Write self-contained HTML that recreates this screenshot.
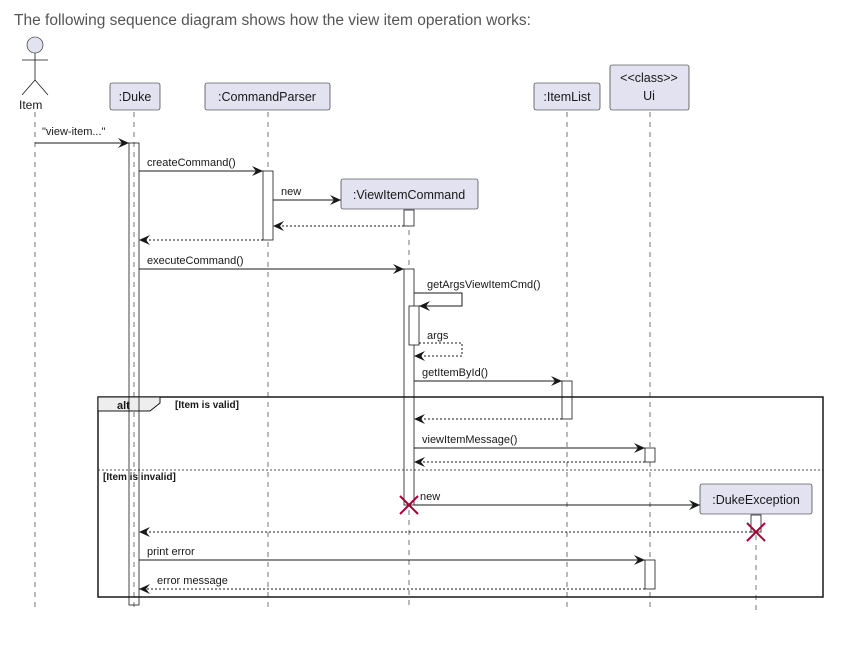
<!DOCTYPE html>
<html><head><meta charset="utf-8"><style>
html,body{margin:0;padding:0;background:#fff;width:844px;height:653px;overflow:hidden}
svg{display:block}
</style></head><body>
<svg width="844" height="653" xmlns="http://www.w3.org/2000/svg" font-family="Liberation Sans, sans-serif">
<defs>
<marker id="a" markerWidth="12" markerHeight="10" refX="11" refY="5" orient="auto" markerUnits="userSpaceOnUse">
<path d="M0,0 L11,5 L0,10 L4,5 Z" fill="#181818"/></marker>
</defs>
<text x="14" y="25" font-size="15.5" fill="#555">The following sequence diagram shows how the view item operation works:</text>
<g stroke="#181818" stroke-width="0.6" stroke-dasharray="5,5" fill="none">
<line x1="35" y1="112" x2="35" y2="610"/>
<line x1="134" y1="112" x2="134" y2="610"/>
<line x1="268" y1="112" x2="268" y2="610"/>
<line x1="409" y1="210" x2="409" y2="610"/>
<line x1="567" y1="112" x2="567" y2="610"/>
<line x1="650" y1="112" x2="650" y2="610"/>
<line x1="756" y1="515" x2="756" y2="610"/>
</g>
<g fill="#E2E2F0" stroke="#181818" stroke-width="0.6">
<circle cx="35" cy="45" r="8"/>
</g>
<g stroke="#181818" stroke-width="0.8">
<line x1="35" y1="53" x2="35" y2="80"/>
<line x1="22" y1="60" x2="48" y2="60"/>
<line x1="35" y1="80" x2="22" y2="95"/>
<line x1="35" y1="80" x2="48" y2="95"/>
</g>
<text x="19" y="109" font-size="12" fill="#181818">Item</text>
<g fill="#E2E2F0" stroke="#181818" stroke-width="0.6">
<rect x="110" y="83" width="50" height="27" rx="2"/>
<rect x="205" y="83" width="125" height="27" rx="2"/>
<rect x="534" y="83" width="66" height="27" rx="2"/>
<rect x="610" y="65" width="79" height="45" rx="2"/>
<rect x="341" y="179" width="137" height="30" rx="2"/>
<rect x="700" y="484" width="112" height="30" rx="2"/>
</g>
<g font-size="12.5" fill="#181818" text-anchor="middle">
<text x="135" y="101">:Duke</text>
<text x="267" y="101">:CommandParser</text>
<text x="567" y="101">:ItemList</text>
<text x="649" y="82">&lt;&lt;class&gt;&gt;</text>
<text x="649" y="100">Ui</text>
<text x="409" y="199">:ViewItemCommand</text>
<text x="756" y="504">:DukeException</text>
</g>
<!-- activations -->
<g fill="#fff" stroke="#181818" stroke-width="0.8">
<rect x="129" y="143" width="10" height="462" fill="none"/>
<rect x="263" y="171" width="10" height="69"/>
<rect x="404" y="210" width="10" height="16"/>
<rect x="404" y="269" width="10" height="236"/>
<rect x="409" y="306" width="10" height="39"/>
<rect x="562" y="381" width="10" height="38"/>
<rect x="645" y="448" width="10" height="14"/>
<rect x="751" y="515" width="10" height="17"/>
<rect x="645" y="560" width="10" height="29"/>
</g>
<!-- alt frame -->
<rect x="98" y="397" width="725" height="200" fill="none" stroke="#181818" stroke-width="1.5"/>
<path d="M98,397 H160 V403 L150,411 H98 Z" fill="#EEE" stroke="#181818" stroke-width="1"/>
<line x1="129" y1="397" x2="129" y2="411" stroke="#181818" stroke-width="0.8"/>
<line x1="139" y1="397" x2="139" y2="411" stroke="#181818" stroke-width="0.8"/>
<text x="117" y="409" font-size="11" font-weight="bold" fill="#181818">alt</text>
<text x="175" y="408" font-size="10" font-weight="bold" fill="#181818">[Item is valid]</text>
<line x1="98" y1="470" x2="823" y2="470" stroke="#181818" stroke-width="0.8" stroke-dasharray="2,2"/>
<text x="103" y="480" font-size="10" font-weight="bold" fill="#181818">[Item is invalid]</text>
<g stroke="#181818" stroke-width="1" fill="none" marker-end="url(#a)">
<line x1="35" y1="143" x2="129" y2="143"/>
<line x1="139" y1="171" x2="263" y2="171"/>
<line x1="273" y1="200" x2="341" y2="200"/>
<line x1="139" y1="269" x2="404" y2="269"/>
<polyline points="414,293 462,293 462,306 419,306"/>
<line x1="414" y1="381" x2="562" y2="381"/>
<line x1="414" y1="448" x2="645" y2="448"/>
<line x1="414" y1="505" x2="700" y2="505"/>
<line x1="139" y1="560" x2="645" y2="560"/>
</g>
<g stroke="#181818" stroke-width="1" fill="none" stroke-dasharray="2,2" marker-end="url(#a)">
<line x1="404" y1="226" x2="273" y2="226"/>
<line x1="263" y1="240" x2="139" y2="240"/>
<polyline points="419,343 462,343 462,356 414,356"/>
<line x1="562" y1="419" x2="414" y2="419"/>
<line x1="645" y1="462" x2="414" y2="462"/>
<line x1="751" y1="532" x2="139" y2="532"/>
<line x1="645" y1="589" x2="139" y2="589"/>
</g>
<g font-size="11" fill="#181818">
<text x="42" y="135">"view-item..."</text>
<text x="147" y="166">createCommand()</text>
<text x="281" y="195">new</text>
<text x="147" y="264">executeCommand()</text>
<text x="427" y="288">getArgsViewItemCmd()</text>
<text x="427" y="339">args</text>
<text x="422" y="376">getItemById()</text>
<text x="422" y="443">viewItemMessage()</text>
<text x="420" y="500">new</text>
<text x="147" y="555">print error</text>
<text x="157" y="584">error message</text>
</g>
<g stroke="#A80036" stroke-width="2">
<line x1="400" y1="496" x2="418" y2="514"/><line x1="418" y1="496" x2="400" y2="514"/>
<line x1="747" y1="523" x2="765" y2="541"/><line x1="765" y1="523" x2="747" y2="541"/>
</g>
</svg>
</body></html>
